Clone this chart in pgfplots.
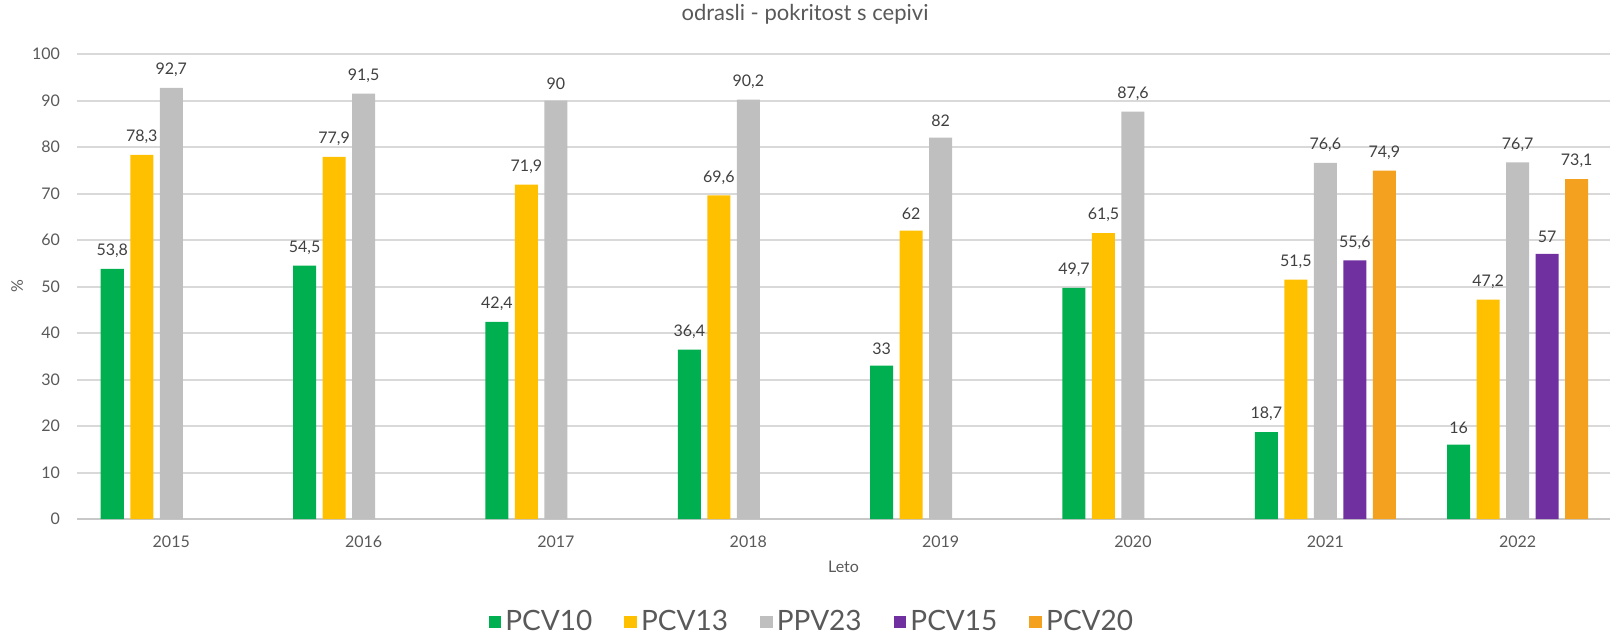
\documentclass[border=0pt]{standalone}
\usepackage{fontspec}
\setmainfont{Lato}
\usepackage{pgfplots}
\pgfplotsset{compat=1.18}
\definecolor{cG}{HTML}{00B050}
\definecolor{cY}{HTML}{FFC000}
\definecolor{cS}{HTML}{BFBFBF}
\definecolor{cP}{HTML}{7030A0}
\definecolor{cO}{HTML}{F4A11F}
\definecolor{gridgray}{HTML}{D9D9D9}
\definecolor{axgray}{HTML}{C8C8C8}
\definecolor{labgray}{HTML}{595959}
\definecolor{datgray}{HTML}{404040}
\begin{document}
\begin{tikzpicture}
\useasboundingbox (0,0) rectangle (805pt,319pt);
\begin{axis}[
  at={(38.5pt,59.5pt)}, anchor=south west,
  scale only axis, width=766.5pt, height=232.5pt,
  ybar=3.25pt, bar width=11.5pt,
  xmin=-0.49, xmax=7.48, ymin=0, ymax=100,
  xtick={0,...,7}, xticklabels={2015,2016,2017,2018,2019,2020,2021,2022},
  ytick={0,10,...,100},
  ymajorgrids, grid style={draw=gridgray, line width=1pt},
  axis x line*=bottom, axis y line*=left,
  y axis line style={draw=none},
  x axis line style={draw=axgray, line width=1pt},
  major tick length=0pt,
  /pgf/number format/assume math mode=true,
  tick label style={font=\fontsize{8}{9}\selectfont, text=labgray},
  xticklabel style={yshift=-5pt},
  yticklabel style={xshift=-5pt},
  xlabel={Leto}, ylabel={\%},
  xlabel style={at={(axis description cs:0.5,0)}, anchor=center, yshift=-24pt, font=\fontsize{8}{9}\selectfont, text=labgray},
  ylabel style={at={(axis description cs:-0.039,0.5)}, anchor=center, font=\fontsize{8}{9}\selectfont, text=labgray},
  nodes near coords={\pgfmathprintnumber[use comma,fixed,precision=1]{\pgfplotspointmeta}},
  every node near coord/.append style={font=\fontsize{8}{9}\selectfont, text=datgray, yshift=2pt},
  legend columns=5,
  legend style={at={(0.48,-0.2215)}, anchor=center, draw=none, fill=none,
    font=\fontsize{14}{16}\selectfont, text=labgray,
    /tikz/every even column/.append style={column sep=14pt}},
  legend image code/.code={\fill[#1] (0pt,-3.2pt) rectangle (6.4pt,3.2pt);},
]
\addplot[fill=cG, draw=none] coordinates {(0,53.8) (1,54.5) (2,42.4) (3,36.4) (4,33) (5,49.7) (6,18.7) (7,16)};
\addplot[fill=cY, draw=none] coordinates {(0,78.3) (1,77.9) (2,71.9) (3,69.6) (4,62) (5,61.5) (6,51.5) (7,47.2)};
\addplot[fill=cS, draw=none] coordinates {(0,92.7) (1,91.5) (2,90) (3,90.2) (4,82) (5,87.6) (6,76.6) (7,76.7)};
\addplot[fill=cP, draw=none] coordinates {(6,55.6) (7,57)};
\addplot[fill=cO, draw=none] coordinates {(6,74.9) (7,73.1)};
\legend{PCV10,PCV13,PPV23,PCV15,PCV20}
\end{axis}
\node[font=\fontsize{11}{13}\selectfont, text=labgray] at (402.5pt,312pt) {odrasli - pokritost s cepivi};
\end{tikzpicture}
\end{document}
